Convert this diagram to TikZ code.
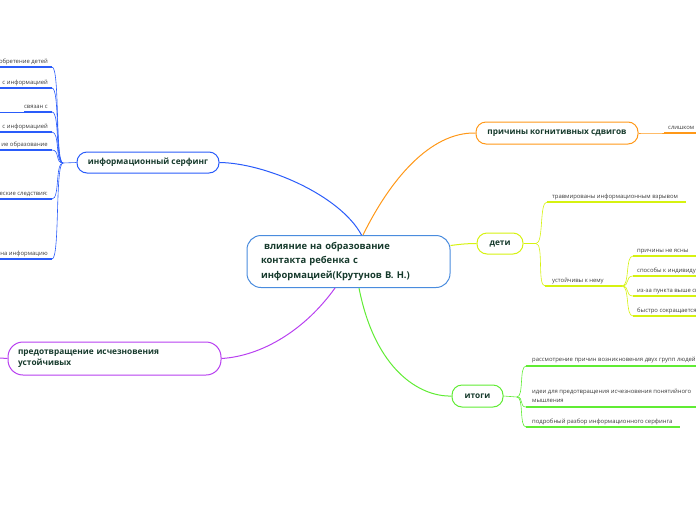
\documentclass[tikz,border=0pt]{standalone}
\usepackage{fontspec}
\setmainfont{Open Sans}
\usetikzlibrary{calc}
\definecolor{txt}{RGB}{22,58,44}
\definecolor{lf}{RGB}{60,60,60}
\definecolor{cblue}{RGB}{74,140,222}
\definecolor{bblue}{RGB}{42,92,250}
\definecolor{purp}{RGB}{184,64,240}
\definecolor{orng}{RGB}{255,152,24}
\definecolor{chart}{RGB}{214,242,16}
\definecolor{grn}{RGB}{96,236,52}
\begin{document}
\begin{tikzpicture}[x=1pt,y=-1pt,
  topic/.style={draw, line width=1pt, fill=white, text=txt, inner sep=0pt,
    font=\fontsize{8.3}{11}\selectfont\bfseries},
  leaf/.style={text=lf, inner sep=0pt, font=\fontsize{5.9}{9.5}\selectfont},
  mainline/.style={line width=1pt},
  thin/.style={line width=0.6pt},
  uline/.style={line width=1.8pt},
]
\useasboundingbox (0,0) rectangle (696,520);
\clip (0,0) rectangle (696,520);

% ---------- central ----------
\node[draw=cblue, line width=1pt, fill=white, rounded corners=14pt,
  minimum width=203pt, minimum height=52pt, text=txt, inner xsep=14pt,
  text width=175pt, align=left, font=\fontsize{9.4}{14.2}\selectfont\bfseries]
  (c) at (348.5,261.5) {\ влияние на образование\\контакта ребенка с\\информацией(Крутунов В. Н.)};

% ---------- topics ----------
\node[topic, draw=bblue, rounded corners=10pt, minimum width=142pt, minimum height=21pt]
  (isurf) at (148,162.5) {информационный серфинг};
\node[topic, draw=purp, rounded corners=15pt, minimum width=213pt, minimum height=33pt,
  text width=193pt, align=left, inner xsep=0pt, font=\fontsize{8.3}{11.5}\selectfont\bfseries]
  (prev) at (114.5,358.5) {предотвращение исчезновения\\устойчивых};
\node[topic, draw=orng, rounded corners=10pt, minimum width=162pt, minimum height=22pt]
  (cog) at (557,133) {причины когнитивных сдвигов};
\node[topic, draw=chart, rounded corners=10pt, minimum width=46pt, minimum height=21pt]
  (kids) at (500,243.5) {дети};
\node[topic, draw=grn, rounded corners=10pt, minimum width=51pt, minimum height=22pt]
  (res) at (477.5,396) {итоги};

% ---------- main connectors ----------
\draw[mainline, bblue] ($(c.north)+(13,0)$) .. controls (340,195) and (265,163) .. (isurf.east);
\draw[mainline, orng] ($(c.north)+(14.5,0)$) .. controls (390,180) and (430,132) .. (cog.west);
\draw[mainline, purp] ($(c.south)+(-13.5,0)$) .. controls (305,330) and (262,356) .. (prev.east);
\draw[mainline, grn] ($(c.south)+(10.5,0)$) .. controls (375,370) and (420,397) .. (res.west);
\draw[mainline, chart] ($(c.east)+(0,-16)$) .. controls (462,244) and (468,243.5) .. (kids.west);

% ---------- left leaves (информационный серфинг) ----------
\coordinate (jl) at (63,163);
\draw[thin, bblue] (isurf.west) -- (jl);
\foreach \nm/\yy/\tx in {a/67/обретение детей, b/88/с информацией, c/112/связан с,
    d/132/с информацией, e/150/ие образование, f/199/еские следствия:, g/259/на информацию}{
  \coordinate (L\nm) at (52,\yy);
  \node[leaf, anchor=base east] (t\nm) at (48,\yy-4) {\tx};
  \draw[thin, bblue] (jl) .. controls +(-8,0) and +(8,0) .. (L\nm);
}
\draw[uline, bblue] (La) -- (0,67);
\draw[uline, bblue] (Lb) -- (0,88);
\draw[uline, bblue] (Lc) -- (tc.west |- Lc);
\draw[thin, bblue] (tc.west |- Lc) -- (0,112);
\draw[uline, bblue] (Ld) -- (0,132);
\draw[uline, bblue] (Le) -- (0,150);
\draw[uline, bblue] (Lf) -- (0,199);
\draw[uline, bblue] (Lg) -- (0,259);

% purple stub to the left
\coordinate (pl) at (0,358);
\draw[mainline, purp] (prev.west) -- (pl);

% ---------- причины когнитивных сдвигов ----------
\coordinate (o1) at (664,133);
\draw[thin, orng] (cog.east) .. controls (650,133) and (655,133) .. (o1);
\node[leaf, anchor=base west] (to1) at (668,129) {слишком};
\draw[uline, orng] (o1) -- (696,133);

% ---------- дети ----------
\coordinate (jk) at (536,243.5);
\draw[thin, chart] (kids.east) -- (jk);
\coordinate (k1) at (547,202);
\coordinate (k2) at (545,286);
\draw[thin, chart] (jk) .. controls +(8,0) and +(-8,0) .. (k1);
\draw[thin, chart] (jk) .. controls +(8,0) and +(-8,0) .. (k2);
\node[leaf, anchor=base west] (tk1) at (552,198) {травмированы информационным взрывом};
\node[leaf, anchor=base west] (tk2) at (552,282) {устойчивы к нему};
\draw[uline, chart] (k1) -- (686,202);
\draw[uline, chart] (k2) -- (622,286);
\coordinate (jk2) at (622,286);
\foreach \nm/\yy/\tx in {p/256/причины не ясны, q/276/способы к индивидуальному, r/296/из-за пункта выше снижается, s/316/быстро сокращается}{
  \coordinate (K\nm) at (633,\yy);
  \draw[thin, chart] (jk2) .. controls +(8,0) and +(-8,0) .. (K\nm);
  \draw[uline, chart] (K\nm) -- (696,\yy);
  \node[leaf, anchor=base west] (tK\nm) at (637,\yy-4) {\tx};
}

% ---------- итоги ----------
\coordinate (jr) at (517,397);
\draw[thin, grn] (res.east) -- (jr);
\coordinate (r1) at (526,366);
\coordinate (r2) at (526,407);
\coordinate (r3) at (526,427);
\foreach \nm in {r1,r2,r3}{
  \draw[thin, grn] (jr) .. controls +(7,0) and +(-7,0) .. (\nm);
}
\draw[uline, grn] (r1) -- (696,366);
\draw[uline, grn] (r2) -- (696,407);
\draw[uline, grn] (r3) -- (680,427);
\node[leaf, anchor=base west] (tr1) at (532,361) {рассмотрение причин возникновения двух групп людей};
\node[leaf, anchor=base west, align=left] (tr2) at (532,402.5) {идеи  для предотвращения исчезновения понятийного\\мышления};
\node[leaf, anchor=base west] (tr3) at (532,423) {подробный разбор информационного серфинга};
\end{tikzpicture}
\end{document}
